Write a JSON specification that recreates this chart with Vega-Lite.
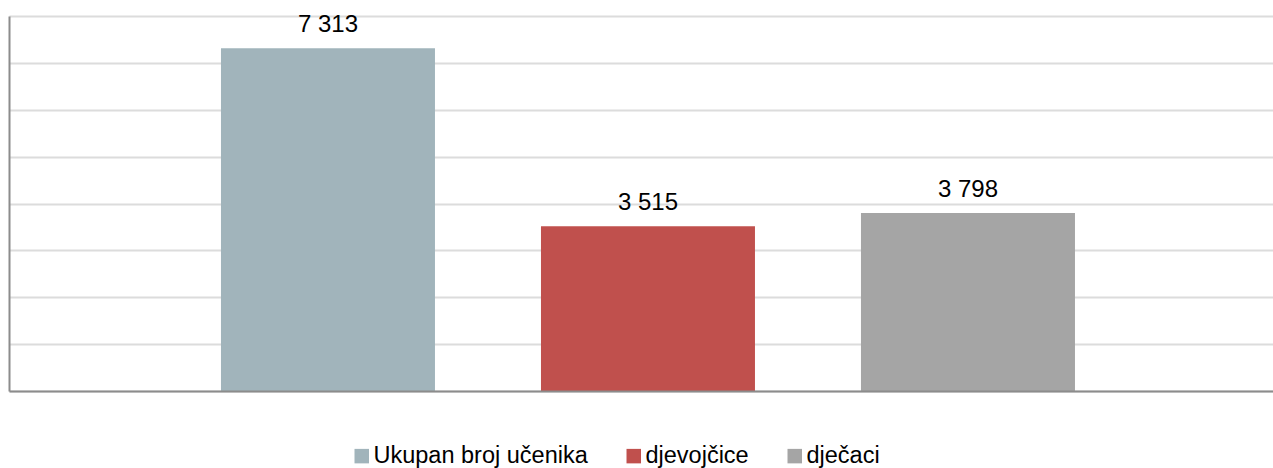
{
  "$schema": "https://vega.github.io/schema/vega-lite/v6.json",
  "width": 1264,
  "height": 375,
  "autosize": {"type": "none"},
  "padding": {"left": 9, "top": 16, "right": 0, "bottom": 77},
  "background": "white",
  "config": {
    "view": {"stroke": null},
    "font": "Liberation Sans",
    "locale": {"number": {"decimal": ",", "thousands": " ", "grouping": [3], "currency": ["", ""]}}
  },
  "data": {
    "values": [
      {"serija": "Ukupan broj učenika", "broj": 7313},
      {"serija": "djevojčice", "broj": 3515},
      {"serija": "dječaci", "broj": 3798}
    ]
  },
  "encoding": {
    "x": {
      "field": "serija",
      "type": "nominal",
      "sort": null,
      "scale": {"paddingInner": 0.33125, "paddingOuter": 0.640625, "align": 0.517},
      "axis": {"title": null, "labels": false, "ticks": false, "domainColor": "#8C8C8C", "domainWidth": 2, "grid": false, "zindex": 1}
    },
    "y": {
      "field": "broj",
      "type": "quantitative",
      "scale": {"domain": [0, 8000], "nice": false},
      "axis": {
        "title": null, "labels": false, "ticks": false,
        "values": [0, 1000, 2000, 3000, 4000, 5000, 6000, 7000, 8000],
        "domainColor": "#8C8C8C", "domainWidth": 2,
        "grid": true, "gridColor": "#DCDCDC", "gridWidth": 2
      }
    }
  },
  "layer": [
    {
      "mark": {"type": "bar"},
      "encoding": {
        "color": {
          "field": "serija",
          "type": "nominal",
          "sort": null,
          "scale": {
            "domain": ["Ukupan broj učenika", "djevojčice", "dječaci"],
            "range": ["#A1B4BB", "#C0504D", "#A5A5A5"]
          },
          "legend": {
            "title": null,
            "orient": "none",
            "direction": "horizontal",
            "legendX": 341,
            "legendY": 428,
            "padding": 0,
            "symbolType": "square",
            "symbolSize": 210,
            "symbolStrokeWidth": 0,
            "labelFontSize": 23.5,
            "labelFont": "Liberation Sans",
            "labelColor": "#000000",
            "labelOffset": 0,
            "columnPadding": 34,
            "labelLimit": 400
          }
        }
      }
    },
    {
      "mark": {"type": "text", "baseline": "alphabetic", "dy": -16, "fontSize": 24, "font": "Liberation Sans", "color": "#000000"},
      "encoding": {
        "text": {"field": "broj", "type": "quantitative", "format": ",d"}
      }
    }
  ]
}
